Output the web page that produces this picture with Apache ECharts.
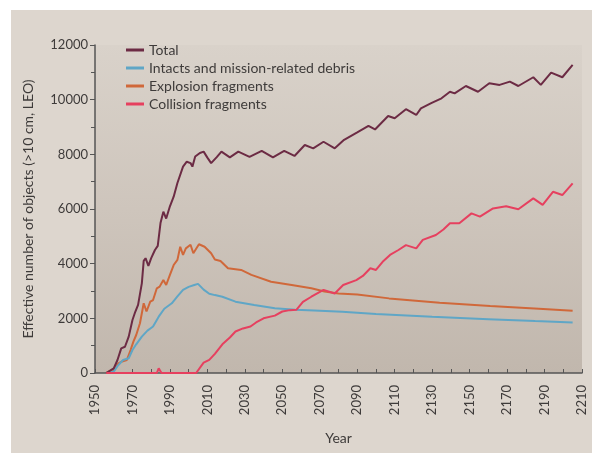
<!DOCTYPE html>
<html>
<head>
<meta charset="utf-8">
<script src="https://cdn.jsdelivr.net/npm/echarts@6/dist/echarts.min.js"></script>
<style>
  html, body { margin: 0; padding: 0; background: #ffffff; }
  #chart { width: 592px; height: 453px; }
</style>
</head>
<body>
<div id="chart"></div>
<script>
// Effective number of LEO objects (>10 cm) by source, historical + projection
const totalYears = [1956, 1960, 1962, 1964, 1966, 1968, 1970, 1971.5, 1973, 1975, 1976, 1977, 1978.5, 1980, 1982, 1983.5, 1985, 1986.5, 1988, 1990, 1992, 1994, 1997, 1999, 2001, 2002, 2003.5, 2006, 2008, 2010, 2012, 2015, 2017.5, 2022, 2026.5, 2032.5, 2039, 2045, 2051, 2056.5, 2062, 2066.5, 2072, 2078, 2083, 2090, 2096, 2099.5, 2106.5, 2110, 2116, 2121.5, 2124, 2129.5, 2135, 2139.5, 2142, 2148, 2154.5, 2160.5, 2166, 2171.5, 2176, 2184, 2188, 2193.5, 2199.5, 2205];
const totalValues = [0, 170, 475, 900, 960, 1330, 1940, 2240, 2490, 3280, 4100, 4200, 3920, 4200, 4500, 4650, 5500, 5900, 5650, 6100, 6450, 6950, 7550, 7730, 7680, 7550, 7920, 8050, 8100, 7880, 7680, 7900, 8100, 7890, 8100, 7910, 8130, 7890, 8130, 7940, 8340, 8220, 8460, 8220, 8530, 8800, 9040, 8910, 9400, 9320, 9650, 9440, 9680, 9870, 10050, 10290, 10230, 10500, 10290, 10600, 10540, 10660, 10500, 10820, 10540, 10990, 10820, 11270];

const intactYears = [1956, 1960, 1962, 1965, 1968, 1970, 1972, 1975, 1978, 1981, 1984, 1987, 1991, 1994, 1997, 2000, 2003, 2005, 2008, 2011, 2014, 2018, 2025, 2035, 2046, 2057, 2067, 2082, 2100, 2130, 2160, 2185, 2205];
const intactValues = [0, 50, 250, 475, 540, 840, 1050, 1330, 1550, 1700, 2060, 2350, 2550, 2800, 3040, 3150, 3220, 3260, 3050, 2900, 2850, 2790, 2610, 2490, 2370, 2310, 2290, 2240, 2160, 2060, 1970, 1900, 1850];

const explosionYears = [1956, 1960, 1962.5, 1964, 1967, 1969, 1970.5, 1972, 1974, 1976, 1977.5, 1979.5, 1981, 1983, 1984.5, 1986.5, 1988, 1990, 1992, 1994, 1995.5, 1997, 1998.5, 2001, 2002.5, 2005.5, 2008.5, 2012, 2014, 2017, 2021, 2028, 2033.5, 2044, 2055, 2065.5, 2072.5, 2080, 2090, 2107, 2134, 2161, 2187, 2205];
const explosionValues = [0, 150, 350, 410, 475, 840, 1150, 1390, 1820, 2550, 2250, 2610, 2670, 3100, 3160, 3400, 3220, 3590, 3950, 4140, 4620, 4320, 4560, 4690, 4380, 4710, 4620, 4380, 4150, 4100, 3830, 3770, 3590, 3340, 3220, 3100, 2980, 2910, 2870, 2730, 2570, 2450, 2350, 2280];

const collisionYears = [1956, 1983, 1984, 1985.5, 2004, 2008, 2011, 2014, 2018, 2022, 2025, 2029, 2033, 2036, 2040, 2046, 2050, 2054, 2057.5, 2061, 2065.5, 2072, 2078, 2082.5, 2089.5, 2093, 2097, 2100, 2104, 2107.5, 2112, 2116, 2121.5, 2125, 2132, 2136, 2139.5, 2144.5, 2151, 2155.5, 2162.5, 2169.5, 2176, 2184, 2189, 2194.5, 2199.5, 2205];
const collisionValues = [0, 0, 170, 0, 0, 380, 480, 700, 1050, 1300, 1520, 1630, 1700, 1850, 2000, 2100, 2250, 2300, 2310, 2600, 2790, 3040, 2910, 3220, 3400, 3550, 3830, 3770, 4100, 4320, 4500, 4680, 4560, 4870, 5050, 5250, 5480, 5480, 5840, 5720, 6020, 6100, 5990, 6390, 6150, 6630, 6510, 6940];

const seriesNames = ['Total', 'Intacts and mission-related debris', 'Explosion fragments', 'Collision fragments'];
const seriesColors = ['#6c2b44', '#5fa6c6', '#d0683a', '#e6405f'];

const yTicks = { min: 0, max: 12000, step: 2000 };
const xTicks = { min: 1950, max: 2210, step: 20 };

const pairs = (xs, ys) => xs.map((x, i) => [x, ys[i]]);
const seriesData = [
  pairs(totalYears, totalValues),
  pairs(intactYears, intactValues),
  pairs(explosionYears, explosionValues),
  pairs(collisionYears, collisionValues)
];

const font = 'Lato, "Open Sans", sans-serif';
const textColor = '#3e3b3a';
const chart = echarts.init(document.getElementById('chart'), null, { renderer: 'canvas' });

chart.setOption({
  backgroundColor: '#ffffff',
  animation: false,
  graphic: [{
    type: 'rect', silent: true, z: -10,
    shape: { x: 11, y: 10, width: 581, height: 443 },
    style: { fill: '#ddd6ce' }
  }],
  grid: {
    left: 95, right: 10, top: 45, bottom: 80,
    show: true, borderWidth: 0,
    backgroundColor: new echarts.graphic.LinearGradient(0, 0, 0, 1, [
      { offset: 0, color: '#d9d2ca' },
      { offset: 0.5, color: '#cec5bc' },
      { offset: 1, color: '#c1b7ad' }
    ])
  },
  legend: {
    orient: 'vertical', left: 121, top: 38,
    itemWidth: 18, itemHeight: 3, itemGap: 4,
    icon: 'rect',
    data: seriesNames,
    textStyle: { fontFamily: font, fontSize: 14, color: textColor }
  },
  xAxis: {
    type: 'value', min: xTicks.min, max: xTicks.max, interval: xTicks.step,
    name: 'Year', nameLocation: 'middle', nameGap: 58,
    nameTextStyle: { fontFamily: font, fontSize: 14, color: textColor },
    axisLine: { lineStyle: { color: '#555555', width: 1.5 } },
    axisTick: { inside: true, length: 4, lineStyle: { color: '#555555' } },
    minorTick: { show: true, splitNumber: 2, length: 4, lineStyle: { color: '#555555' } },
    splitLine: { show: false },
    axisLabel: {
      rotate: 90, margin: 12, fontFamily: font, fontSize: 13, color: textColor,
      formatter: v => String(v)
    }
  },
  yAxis: {
    type: 'value', min: yTicks.min, max: yTicks.max, interval: yTicks.step,
    name: 'Effective number of objects (>10 cm, LEO)', nameLocation: 'middle', nameGap: 60,
    nameTextStyle: { fontFamily: font, fontSize: 14, color: textColor },
    axisLine: { show: true, lineStyle: { color: '#555555', width: 1.5 } },
    axisTick: { show: true, length: 5, lineStyle: { color: '#555555' } },
    minorTick: { show: true, splitNumber: 2, length: 4, lineStyle: { color: '#555555' } },
    splitLine: { show: false },
    axisLabel: {
      margin: 7, fontFamily: font, fontSize: 13, color: textColor,
      formatter: v => String(v)
    }
  },
  series: seriesNames.map((name, i) => ({
    name, type: 'line', data: seriesData[i],
    showSymbol: false, symbol: 'none',
    z: i === 3 ? 5 : 3 - i + 2,
    itemStyle: { color: seriesColors[i] },
    lineStyle: { color: seriesColors[i], width: 2 }
  }))
});
</script>
</body>
</html>
